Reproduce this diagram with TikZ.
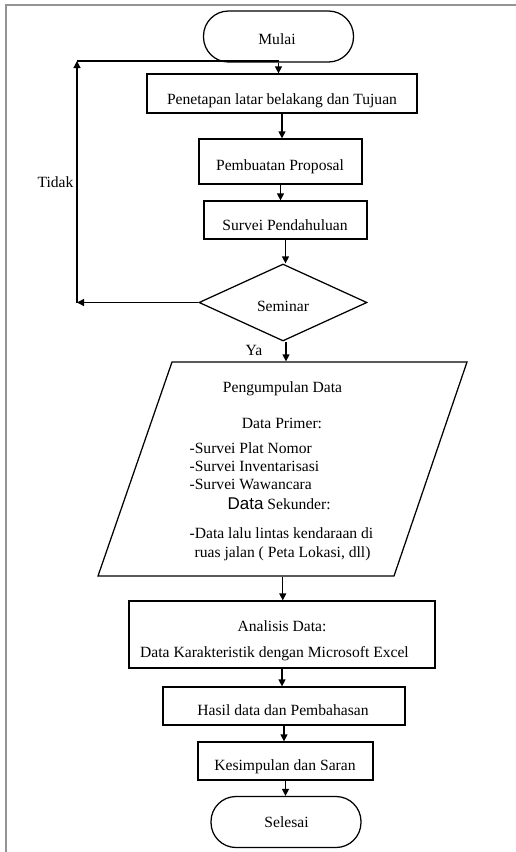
\documentclass[tikz,border=0pt]{standalone}
\usepackage{fontspec}
\setmainfont{Liberation Serif}
\setsansfont{Liberation Sans}
\usetikzlibrary{arrows.meta,shapes.geometric}
\begin{document}
\begin{tikzpicture}[x=1pt,y=-1pt,
  line width=1.25pt,
  font=\fontsize{15.6}{18}\selectfont,
  arr/.style={-{Triangle[length=7pt,width=7pt]}},
  txt/.style={inner sep=0pt, text height=10pt, text depth=3pt},
  procbox/.style={draw, rectangle, inner sep=0pt},
  termbox/.style={draw, rectangle, rounded corners=25pt, inner sep=0pt,
    minimum width=150pt, minimum height=51pt},
  decbox/.style={draw, diamond, inner sep=0pt},
  frame/.style={draw=black!42, line width=2.3pt}
]
\useasboundingbox (0,0) rectangle (516,852);

% page frame
\draw[frame] (6,852) -- (6,5.3) -- (516,5.3);

% shapes
\node[termbox] (mulai) at (278.5,36.5) {};
\node[procbox, minimum width=270pt, minimum height=39pt] (b1) at (282,93.5) {};
\node[procbox, minimum width=163pt, minimum height=45pt] (b2) at (280.5,161.5) {};
\node[procbox, minimum width=163pt, minimum height=38pt] (b3) at (285.5,220) {};
\node[decbox, minimum width=168pt, minimum height=77pt] (dec) at (283,302.5) {};

% data collection parallelogram
\coordinate (pa) at (172,362);
\coordinate (pb) at (467,362);
\coordinate (pc) at (394,576);
\coordinate (pd) at (98,576);
\draw (pa) -- (pb) -- (pc) -- (pd) -- cycle;
\node[inner sep=0pt, minimum width=0pt, minimum height=214pt] (dat) at (282.75,469) {};

\node[procbox, minimum width=306pt, minimum height=67pt] (ana) at (282,634.5) {};
\node[procbox, minimum width=242pt, minimum height=38pt] (hasil) at (284,706) {};
\node[procbox, minimum width=175pt, minimum height=38pt] (kes) at (285.5,761) {};
\node[termbox] (selesai) at (286,822) {};

% texts
\node[txt] (tmulai) at (277,41) {Mulai};
\node[txt] (tb1) at (282,100.5) {Penetapan latar belakang dan Tujuan};
\node[txt] (tb2) at (280,167) {Pembuatan Proposal};
\node[txt] (tb3) at (285,227) {Survei Pendahuluan};
\node[txt] (tdec) at (283,307.5) {Seminar};
\node[txt] (tpd1) at (282.5,388.5) {Pengumpulan Data};
\node[txt] (tpd2) at (282,425) {Data Primer:};
\node[txt, anchor=west] (tpd3) at (189,450) {-Survei Plat Nomor};
\node[txt, anchor=west] (tpd4) at (189,468) {-Survei Inventarisasi};
\node[txt, anchor=west] (tpd5) at (189,486) {-Survei Wawancara};
\node[txt, anchor=west] (tpd6) at (227,505.5) {{\sffamily\fontsize{17}{18}\selectfont Data} Sekunder:};
\node[txt, anchor=west] (tpd7) at (189,535) {-Data lalu lintas kendaraan di};
\node[txt, anchor=west] (tpd8) at (194,554) {ruas jalan ( Peta Lokasi, dll)};
\node[txt] (tana1) at (282,627.5) {Analisis Data:};
\node[txt] (tana2) at (274.5,653.5) {Data Karakteristik dengan Microsoft Excel};
\node[txt] (thasil) at (283,712) {Hasil data dan Pembahasan};
\node[txt] (tkes) at (285,767) {Kesimpulan dan Saran};
\node[txt] (tsel) at (286.5,824) {Selesai};
\node[txt, anchor=west] (tidak) at (37,184) {Tidak};
\node[txt, anchor=west] (ya) at (245,352) {Ya};

% main flow
\draw[arr] (mulai.south) -- (mulai.south |- b1.north);
\draw[arr] (b1.south) -- (b1.south |- b2.north);
\draw[arr] (b2.south) -- (b2.south |- b3.north);
\draw[arr] (b3.south) -- (b3.south |- dec.north);
\draw[arr] ([xshift=3pt]dec.south) -- ([xshift=3pt]dec.south |- dat.north);
\draw[arr] (dat.south) -- (dat.south |- ana.north);
\draw[arr] (ana.south) -- (ana.south |- hasil.north);
\draw[arr] (hasil.south) -- (hasil.south |- kes.north);
\draw[arr] (kes.south) -- (kes.south |- selesai.north);

% rejection loop back to the start
\coordinate (lb) at (77,302.5);
\coordinate (lt) at (77,61);
\draw[arr] (dec.west) -- (lb);
\draw[arr] (lb) -- (lt);
\draw (lt) -- (lt -| mulai.south);
\end{tikzpicture}
\end{document}
